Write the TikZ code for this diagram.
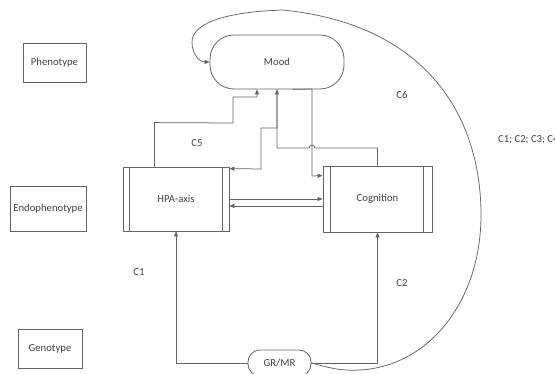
\documentclass[tikz,border=0pt]{standalone}
\usepackage{fontspec}
\setmainfont{Carlito}
\usetikzlibrary{calc,arrows.meta}
\definecolor{ln}{RGB}{100,100,100}
\definecolor{tx}{RGB}{64,64,64}
\tikzset{
  box/.style={draw=ln,line width=0.8pt,rectangle,inner sep=0pt,text=tx,font=\fontsize{10.7}{13}\selectfont},
  lbl/.style={text=tx,font=\fontsize{10.7}{13}\selectfont,inner sep=0pt},
  conn/.style={draw=ln,line width=0.75pt},
  arr/.style={conn,-{Triangle[length=5pt,width=4pt]}},
}
\begin{document}
\begin{tikzpicture}[x=1pt,y=-1pt]
\useasboundingbox (0,0) rectangle (555,374);
% level labels
\node[box,minimum width=63pt,minimum height=39pt] (pheno) at (54.5,62.5) {Phenotype};
\node[box,minimum width=76pt,minimum height=45pt] (endo) at (48,208.5) {Endophenotype};
\node[box,minimum width=64pt,minimum height=39pt] (geno) at (50,348.5) {Genotype};
% main nodes
\node[box,minimum width=106pt,minimum height=64pt] (hpa) at (176,199) {HPA-axis};
\node[box,minimum width=109pt,minimum height=66pt] (cog) at (377.5,199) {Cognition};
\node[box,minimum width=134pt,minimum height=54pt,rounded corners=24pt] (mood) at (277,62) {Mood};
\node[box,minimum width=63pt,minimum height=26pt,rounded corners=12pt,fill=white] (grmr) at (279.5,363) {GR/MR};
% inner stripes of process boxes
\draw[conn] ($(hpa.north west)+(7,0)$) -- ($(hpa.south west)+(7,0)$);
\draw[conn] ($(hpa.north east)+(-7,0)$) -- ($(hpa.south east)+(-7,0)$);
\draw[conn] ($(cog.north west)+(8,0)$) -- ($(cog.south west)+(8,0)$);
\draw[conn] ($(cog.north east)+(-9,0)$) -- ($(cog.south east)+(-9,0)$);
% connectors
\draw[arr] ($(hpa.north west)+(32,0)$) -- ++(0,-44) -- (233,123) -- (233,97) -- (257,97) -- ($(mood.south)+(-20,0)$);
\draw[arr] (mood.south) -- (277,128) -- (261,128) -- (261,169) -- ($(hpa.north east)+(0,2)$);
\draw[arr] (cog.north) -- (377.5,148) -- (315,148) arc (0:-180:3) -- (277,148) -- (mood.south);
\draw[arr] ($(mood.south)+(16,0)$) -- (312,89) -- (312,176) -- ($(cog.north west)+(0,10)$);
\draw[arr] (hpa.east) -- (hpa.east -| cog.west);
\draw[arr] ($(cog.west)+(0,7)$) -- ($(hpa.east)+(0,7)$);
\draw[arr] (grmr.west) -| (hpa.south);
\draw[arr] (grmr.east) -| (cog.south);
\draw[arr] (grmr.east) .. controls (330,368) and (340,371) .. (360,370)
  .. controls (430,366) and (481,300) .. (481,215)
  .. controls (481,120) and (430,25) .. (283,10)
  .. controls (220,12) and (192,25) .. (192,42)
  .. controls (192,55) and (200,62) .. (mood.west);
% labels
\node[lbl] (c5) at (197,143) {C5};
\node[lbl] (c6) at (402,95) {C6};
\node[lbl] (c1) at (139,272) {C1};
\node[lbl] (c2) at (402,283) {C2};
\node[lbl,anchor=west] (call) at (498,140) {C1; C2; C3; C4};
\end{tikzpicture}
\end{document}
